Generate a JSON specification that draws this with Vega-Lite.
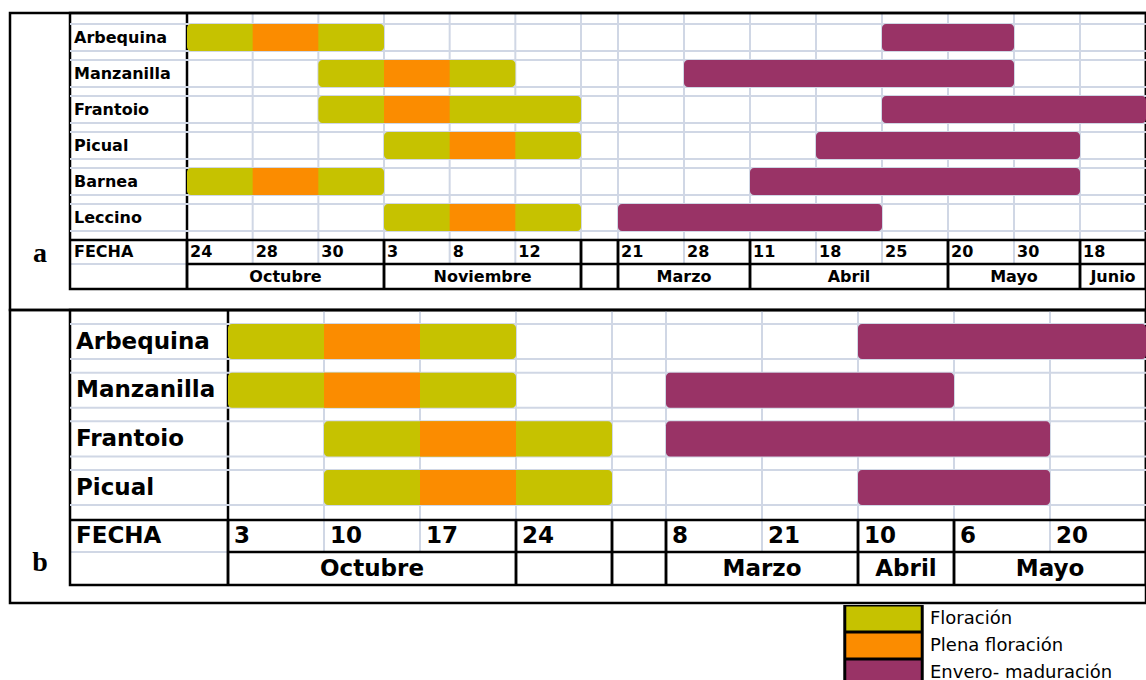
{
  "$schema": "https://vega.github.io/schema/vega-lite/v6.json",
  "padding": 0,
  "spacing": 0,
  "bounds": "flush",
  "background": "white",
  "config": {"view": {"stroke": null}, "axis": {"disable": true}},
  "datasets": {
    "fases_a": [
      {"variedad": "Arbequina", "fase": "Floración", "inicio": 0, "fin": 3},
      {"variedad": "Arbequina", "fase": "Plena floración", "inicio": 1, "fin": 2},
      {"variedad": "Arbequina", "fase": "Envero- maduración", "inicio": 11, "fin": 13},
      {"variedad": "Manzanilla", "fase": "Floración", "inicio": 2, "fin": 5},
      {"variedad": "Manzanilla", "fase": "Plena floración", "inicio": 3, "fin": 4},
      {"variedad": "Manzanilla", "fase": "Envero- maduración", "inicio": 8, "fin": 13},
      {"variedad": "Frantoio", "fase": "Floración", "inicio": 2, "fin": 6},
      {"variedad": "Frantoio", "fase": "Plena floración", "inicio": 3, "fin": 4},
      {"variedad": "Frantoio", "fase": "Envero- maduración", "inicio": 11, "fin": 15},
      {"variedad": "Picual", "fase": "Floración", "inicio": 3, "fin": 6},
      {"variedad": "Picual", "fase": "Plena floración", "inicio": 4, "fin": 5},
      {"variedad": "Picual", "fase": "Envero- maduración", "inicio": 10, "fin": 14},
      {"variedad": "Barnea", "fase": "Floración", "inicio": 0, "fin": 3},
      {"variedad": "Barnea", "fase": "Plena floración", "inicio": 1, "fin": 2},
      {"variedad": "Barnea", "fase": "Envero- maduración", "inicio": 9, "fin": 14},
      {"variedad": "Leccino", "fase": "Floración", "inicio": 3, "fin": 6},
      {"variedad": "Leccino", "fase": "Plena floración", "inicio": 4, "fin": 5},
      {"variedad": "Leccino", "fase": "Envero- maduración", "inicio": 7, "fin": 11}
    ],
    "fechas_a": [
      {"col": 0, "fecha": "24"}, {"col": 1, "fecha": "28"}, {"col": 2, "fecha": "30"},
      {"col": 3, "fecha": "3"}, {"col": 4, "fecha": "8"}, {"col": 5, "fecha": "12"},
      {"col": 7, "fecha": "21"}, {"col": 8, "fecha": "28"}, {"col": 9, "fecha": "11"},
      {"col": 10, "fecha": "18"}, {"col": 11, "fecha": "25"}, {"col": 12, "fecha": "20"},
      {"col": 13, "fecha": "30"}, {"col": 14, "fecha": "18"}
    ],
    "meses_a": [
      {"mes": "Octubre", "inicio": 0, "fin": 3},
      {"mes": "Noviembre", "inicio": 3, "fin": 6},
      {"mes": "", "inicio": 6, "fin": 7},
      {"mes": "Marzo", "inicio": 7, "fin": 9},
      {"mes": "Abril", "inicio": 9, "fin": 12},
      {"mes": "Mayo", "inicio": 12, "fin": 14},
      {"mes": "Junio", "inicio": 14, "fin": 15}
    ],
    "fases_b": [
      {"variedad": "Arbequina", "fase": "Floración", "inicio": 0, "fin": 3},
      {"variedad": "Arbequina", "fase": "Plena floración", "inicio": 1, "fin": 2},
      {"variedad": "Arbequina", "fase": "Envero- maduración", "inicio": 7, "fin": 10},
      {"variedad": "Manzanilla", "fase": "Floración", "inicio": 0, "fin": 3},
      {"variedad": "Manzanilla", "fase": "Plena floración", "inicio": 1, "fin": 2},
      {"variedad": "Manzanilla", "fase": "Envero- maduración", "inicio": 5, "fin": 8},
      {"variedad": "Frantoio", "fase": "Floración", "inicio": 1, "fin": 4},
      {"variedad": "Frantoio", "fase": "Plena floración", "inicio": 2, "fin": 3},
      {"variedad": "Frantoio", "fase": "Envero- maduración", "inicio": 5, "fin": 9},
      {"variedad": "Picual", "fase": "Floración", "inicio": 1, "fin": 4},
      {"variedad": "Picual", "fase": "Plena floración", "inicio": 2, "fin": 3},
      {"variedad": "Picual", "fase": "Envero- maduración", "inicio": 7, "fin": 9}
    ],
    "fechas_b": [
      {"col": 0, "fecha": "3"}, {"col": 1, "fecha": "10"}, {"col": 2, "fecha": "17"},
      {"col": 3, "fecha": "24"}, {"col": 5, "fecha": "8"}, {"col": 6, "fecha": "21"},
      {"col": 7, "fecha": "10"}, {"col": 8, "fecha": "6"}, {"col": 9, "fecha": "20"}
    ],
    "meses_b": [
      {"mes": "Octubre", "inicio": 0, "fin": 3},
      {"mes": "", "inicio": 3, "fin": 4},
      {"mes": " ", "inicio": 4, "fin": 5},
      {"mes": "Marzo", "inicio": 5, "fin": 7},
      {"mes": "Abril", "inicio": 7, "fin": 8},
      {"mes": "Mayo", "inicio": 8, "fin": 10}
    ]
  },
  "resolve": {"scale": {"color": "shared"}, "legend": {"color": "shared"}},
  "vconcat": [
    {
      "width": 1146,
      "height": 309,
      "layer": [
        {
          "data": {"values": [{}]},
          "layer": [
            {"data": {"name": "fechas_a"}, "mark": {"type": "rule", "color": "#d0d7e5", "strokeWidth": 2},
             "encoding": {"x": {"field": "col", "type": "quantitative", "scale": {"type": "linear", "domain": [-2, -1, 0, 6, 7, 15], "range": [10, 70, 187, 581, 618, 1146], "nice": false, "zero": false}},
                          "y": {"datum": 0, "type": "quantitative", "scale": {"type": "linear", "domain": [0, 1, 2, 3, 4], "range": [13, 240, 264, 289, 310], "nice": false, "zero": false}},
                          "y2": {"datum": 2}}},
            {"data": {"name": "meses_a"}, "transform": [{"fold": ["inicio", "fin"], "as": ["borde", "pos"]}],
             "mark": {"type": "rule", "color": "#d0d7e5", "strokeWidth": 2},
             "encoding": {"x": {"field": "pos", "type": "quantitative", "scale": {"type": "linear", "domain": [-2, -1, 0, 6, 7, 15], "range": [10, 70, 187, 581, 618, 1146], "nice": false, "zero": false}},
                          "y": {"datum": 0, "type": "quantitative", "scale": {"type": "linear", "domain": [0, 1, 2, 3, 4], "range": [13, 240, 264, 289, 310], "nice": false, "zero": false}},
                          "y2": {"datum": 1}}},
            {"mark": {"type": "rule", "color": "#d0d7e5", "strokeWidth": 2},
             "encoding": {"x": {"datum": -1, "type": "quantitative", "scale": {"type": "linear", "domain": [-2, -1, 0, 6, 7, 15], "range": [10, 70, 187, 581, 618, 1146], "nice": false, "zero": false}},
                          "x2": {"datum": 0},
                          "y": {"datum": 2, "type": "quantitative", "scale": {"type": "linear", "domain": [0, 1, 2, 3, 4], "range": [13, 240, 264, 289, 310], "nice": false, "zero": false}}}},
            {"mark": {"type": "rule", "color": "black", "strokeWidth": 2.5},
             "encoding": {"x": {"datum": -1, "type": "quantitative", "scale": {"type": "linear", "domain": [-2, -1, 0, 6, 7, 15], "range": [10, 70, 187, 581, 618, 1146], "nice": false, "zero": false}},
                          "x2": {"datum": 15},
                          "y": {"datum": 1, "type": "quantitative", "scale": {"type": "linear", "domain": [0, 1, 2, 3, 4], "range": [13, 240, 264, 289, 310], "nice": false, "zero": false}}}},
            {"mark": {"type": "rule", "color": "black", "strokeWidth": 2.5},
             "encoding": {"x": {"datum": 0, "type": "quantitative", "scale": {"type": "linear", "domain": [-2, -1, 0, 6, 7, 15], "range": [10, 70, 187, 581, 618, 1146], "nice": false, "zero": false}},
                          "x2": {"datum": 15},
                          "y": {"datum": 2, "type": "quantitative", "scale": {"type": "linear", "domain": [0, 1, 2, 3, 4], "range": [13, 240, 264, 289, 310], "nice": false, "zero": false}}}},
            {"mark": {"type": "rule", "color": "black", "strokeWidth": 2.5},
             "encoding": {"x": {"datum": 0, "type": "quantitative", "scale": {"type": "linear", "domain": [-2, -1, 0, 6, 7, 15], "range": [10, 70, 187, 581, 618, 1146], "nice": false, "zero": false}},
                          "y": {"datum": 0, "type": "quantitative", "scale": {"type": "linear", "domain": [0, 1, 2, 3, 4], "range": [13, 240, 264, 289, 310], "nice": false, "zero": false}},
                          "y2": {"datum": 3}}},
            {"data": {"name": "meses_a"}, "transform": [{"fold": ["inicio", "fin"], "as": ["borde", "pos"]}],
             "mark": {"type": "rule", "color": "black", "strokeWidth": 2.5},
             "encoding": {"x": {"field": "pos", "type": "quantitative", "scale": {"type": "linear", "domain": [-2, -1, 0, 6, 7, 15], "range": [10, 70, 187, 581, 618, 1146], "nice": false, "zero": false}},
                          "y": {"datum": 1, "type": "quantitative", "scale": {"type": "linear", "domain": [0, 1, 2, 3, 4], "range": [13, 240, 264, 289, 310], "nice": false, "zero": false}},
                          "y2": {"datum": 3}}},
            {"mark": {"type": "rect", "fillOpacity": 0, "stroke": "black", "strokeWidth": 2.5},
             "encoding": {"x": {"datum": -1, "type": "quantitative", "scale": {"type": "linear", "domain": [-2, -1, 0, 6, 7, 15], "range": [10, 70, 187, 581, 618, 1146], "nice": false, "zero": false}},
                          "x2": {"datum": 15},
                          "y": {"datum": 0, "type": "quantitative", "scale": {"type": "linear", "domain": [0, 1, 2, 3, 4], "range": [13, 240, 264, 289, 310], "nice": false, "zero": false}},
                          "y2": {"datum": 3}}},
            {"mark": {"type": "rect", "fillOpacity": 0, "stroke": "black", "strokeWidth": 2.5},
             "encoding": {"x": {"datum": -2, "type": "quantitative", "scale": {"type": "linear", "domain": [-2, -1, 0, 6, 7, 15], "range": [10, 70, 187, 581, 618, 1146], "nice": false, "zero": false}},
                          "x2": {"datum": 15},
                          "y": {"datum": 0, "type": "quantitative", "scale": {"type": "linear", "domain": [0, 1, 2, 3, 4], "range": [13, 240, 264, 289, 310], "nice": false, "zero": false}},
                          "y2": {"datum": 4}}},
            {"mark": {"type": "text", "font": "DejaVu Sans", "fontWeight": "bold", "fontSize": 16, "color": "black", "align": "left", "baseline": "middle", "dx": 4},
             "encoding": {"x": {"datum": -1, "type": "quantitative", "scale": {"type": "linear", "domain": [-2, -1, 0, 6, 7, 15], "range": [10, 70, 187, 581, 618, 1146], "nice": false, "zero": false}},
                          "y": {"datum": 1.5, "type": "quantitative", "scale": {"type": "linear", "domain": [0, 1, 2, 3, 4], "range": [13, 240, 264, 289, 310], "nice": false, "zero": false}},
                          "text": {"value": "FECHA"}}},
            {"data": {"name": "fechas_a"},
             "mark": {"type": "text", "font": "DejaVu Sans", "fontWeight": "bold", "fontSize": 16, "color": "black", "align": "left", "baseline": "middle", "dx": 3},
             "encoding": {"x": {"field": "col", "type": "quantitative", "scale": {"type": "linear", "domain": [-2, -1, 0, 6, 7, 15], "range": [10, 70, 187, 581, 618, 1146], "nice": false, "zero": false}},
                          "y": {"datum": 1.5, "type": "quantitative", "scale": {"type": "linear", "domain": [0, 1, 2, 3, 4], "range": [13, 240, 264, 289, 310], "nice": false, "zero": false}},
                          "text": {"field": "fecha"}}},
            {"data": {"name": "meses_a"},
             "transform": [{"fold": ["inicio", "fin"], "as": ["borde", "pos"]}, {"aggregate": [{"op": "mean", "field": "pos", "as": "centro"}], "groupby": ["mes"]}],
             "mark": {"type": "text", "font": "DejaVu Sans", "fontWeight": "bold", "fontSize": 16, "color": "black", "align": "center", "baseline": "middle"},
             "encoding": {"x": {"field": "centro", "type": "quantitative", "scale": {"type": "linear", "domain": [-2, -1, 0, 6, 7, 15], "range": [10, 70, 187, 581, 618, 1146], "nice": false, "zero": false}},
                          "y": {"datum": 2.5, "type": "quantitative", "scale": {"type": "linear", "domain": [0, 1, 2, 3, 4], "range": [13, 240, 264, 289, 310], "nice": false, "zero": false}},
                          "text": {"field": "mes"}}},
            {"mark": {"type": "text", "font": "Liberation Serif", "fontWeight": "bold", "fontSize": 28, "color": "black", "align": "center", "baseline": "alphabetic", "dy": -2},
             "encoding": {"x": {"datum": -1.5, "type": "quantitative", "scale": {"type": "linear", "domain": [-2, -1, 0, 6, 7, 15], "range": [10, 70, 187, 581, 618, 1146], "nice": false, "zero": false}},
                          "y": {"datum": 2, "type": "quantitative", "scale": {"type": "linear", "domain": [0, 1, 2, 3, 4], "range": [13, 240, 264, 289, 310], "nice": false, "zero": false}},
                          "text": {"value": "a"}}}
          ]
        },
        {
          "data": {"name": "fases_a"},
          "layer": [
            {"transform": [{"filter": "datum.fase === 'Floración'"}],
             "mark": {"type": "rule", "color": "#d0d7e5", "strokeWidth": 2},
             "encoding": {"x": {"datum": -1, "type": "quantitative", "scale": {"type": "linear", "domain": [-2, -1, 0, 6, 7, 15], "range": [10, 70, 187, 581, 618, 1146], "nice": false, "zero": false}},
                          "x2": {"datum": 15},
                          "y": {"field": "variedad", "type": "nominal", "bandPosition": 0, "scale": {"type": "band", "domain": ["Arbequina", "Manzanilla", "Frantoio", "Picual", "Barnea", "Leccino"], "range": [19.5, 235.5], "paddingInner": 0.25, "paddingOuter": 0.125}}}},
            {"transform": [{"filter": "datum.fase === 'Floración'"}],
             "mark": {"type": "rule", "color": "#d0d7e5", "strokeWidth": 2},
             "encoding": {"x": {"datum": -1, "type": "quantitative", "scale": {"type": "linear", "domain": [-2, -1, 0, 6, 7, 15], "range": [10, 70, 187, 581, 618, 1146], "nice": false, "zero": false}},
                          "x2": {"datum": 15},
                          "y": {"field": "variedad", "type": "nominal", "bandPosition": 1, "scale": {"type": "band", "domain": ["Arbequina", "Manzanilla", "Frantoio", "Picual", "Barnea", "Leccino"], "range": [19.5, 235.5], "paddingInner": 0.25, "paddingOuter": 0.125}}}},
            {"transform": [{"filter": "datum.fase !== 'Plena floración'"}],
             "mark": {"type": "bar", "cornerRadiusEnd": 4},
             "encoding": {"x": {"field": "inicio", "type": "quantitative", "scale": {"type": "linear", "domain": [-2, -1, 0, 6, 7, 15], "range": [10, 70, 187, 581, 618, 1146], "nice": false, "zero": false}},
                          "x2": {"field": "fin"},
                          "y": {"field": "variedad", "type": "nominal", "scale": {"type": "band", "domain": ["Arbequina", "Manzanilla", "Frantoio", "Picual", "Barnea", "Leccino"], "range": [19.5, 235.5], "paddingInner": 0.25, "paddingOuter": 0.125}},
                          "color": {"field": "fase", "type": "nominal",
                                    "scale": {"domain": ["Floración", "Plena floración", "Envero- maduración"], "range": ["#c6c200", "#fb8c00", "#993366"]},
                                    "legend": {"orient": "none", "legendX": 843, "legendY": 605, "title": null,
                                               "symbolType": "M-1,-0.3486H1V0.3486H-1Z", "symbolSize": 6000,
                                               "symbolStrokeColor": "black", "symbolStrokeWidth": 3, "symbolOpacity": 1,
                                               "clipHeight": 27, "rowPadding": 0, "labelOffset": 6, "padding": 0, "offset": 0,
                                               "labelFont": "DejaVu Sans", "labelFontSize": 18, "labelColor": "black", "labelLimit": 400}}}},
            {"transform": [{"filter": "datum.fase === 'Plena floración'"}],
             "mark": {"type": "bar"},
             "encoding": {"x": {"field": "inicio", "type": "quantitative", "scale": {"type": "linear", "domain": [-2, -1, 0, 6, 7, 15], "range": [10, 70, 187, 581, 618, 1146], "nice": false, "zero": false}},
                          "x2": {"field": "fin"},
                          "y": {"field": "variedad", "type": "nominal", "scale": {"type": "band", "domain": ["Arbequina", "Manzanilla", "Frantoio", "Picual", "Barnea", "Leccino"], "range": [19.5, 235.5], "paddingInner": 0.25, "paddingOuter": 0.125}},
                          "color": {"field": "fase", "type": "nominal", "scale": {"domain": ["Floración", "Plena floración", "Envero- maduración"], "range": ["#c6c200", "#fb8c00", "#993366"]}}}},
            {"transform": [{"filter": "datum.fase === 'Floración'"}],
             "mark": {"type": "text", "font": "DejaVu Sans", "fontWeight": "bold", "fontSize": 16, "color": "black", "align": "left", "baseline": "middle", "dx": 4},
             "encoding": {"x": {"datum": -1, "type": "quantitative", "scale": {"type": "linear", "domain": [-2, -1, 0, 6, 7, 15], "range": [10, 70, 187, 581, 618, 1146], "nice": false, "zero": false}},
                          "y": {"field": "variedad", "type": "nominal", "scale": {"type": "band", "domain": ["Arbequina", "Manzanilla", "Frantoio", "Picual", "Barnea", "Leccino"], "range": [19.5, 235.5], "paddingInner": 0.25, "paddingOuter": 0.125}},
                          "text": {"field": "variedad"}}}
          ]
        }
      ],
      "resolve": {"scale": {"y": "independent"}}
    },
    {
      "width": 1146,
      "height": 371,
      "layer": [
        {
          "data": {"values": [{}]},
          "layer": [
            {"data": {"name": "fechas_b"}, "mark": {"type": "rule", "color": "#d0d7e5", "strokeWidth": 2},
             "encoding": {"x": {"field": "col", "type": "quantitative", "scale": {"type": "linear", "domain": [-2, -1, 0, 4, 5, 10], "range": [10, 70, 228, 612, 666, 1146], "nice": false, "zero": false}},
                          "y": {"datum": 0, "type": "quantitative", "scale": {"type": "linear", "domain": [0, 1, 2, 3, 4], "range": [1, 211, 243, 276, 294], "nice": false, "zero": false}},
                          "y2": {"datum": 2}}},
            {"data": {"name": "meses_b"}, "transform": [{"fold": ["inicio", "fin"], "as": ["borde", "pos"]}],
             "mark": {"type": "rule", "color": "#d0d7e5", "strokeWidth": 2},
             "encoding": {"x": {"field": "pos", "type": "quantitative", "scale": {"type": "linear", "domain": [-2, -1, 0, 4, 5, 10], "range": [10, 70, 228, 612, 666, 1146], "nice": false, "zero": false}},
                          "y": {"datum": 0, "type": "quantitative", "scale": {"type": "linear", "domain": [0, 1, 2, 3, 4], "range": [1, 211, 243, 276, 294], "nice": false, "zero": false}},
                          "y2": {"datum": 1}}},
            {"mark": {"type": "rule", "color": "#d0d7e5", "strokeWidth": 2},
             "encoding": {"x": {"datum": -1, "type": "quantitative", "scale": {"type": "linear", "domain": [-2, -1, 0, 4, 5, 10], "range": [10, 70, 228, 612, 666, 1146], "nice": false, "zero": false}},
                          "x2": {"datum": 0},
                          "y": {"datum": 2, "type": "quantitative", "scale": {"type": "linear", "domain": [0, 1, 2, 3, 4], "range": [1, 211, 243, 276, 294], "nice": false, "zero": false}}}},
            {"mark": {"type": "rule", "color": "black", "strokeWidth": 2.5},
             "encoding": {"x": {"datum": -1, "type": "quantitative", "scale": {"type": "linear", "domain": [-2, -1, 0, 4, 5, 10], "range": [10, 70, 228, 612, 666, 1146], "nice": false, "zero": false}},
                          "x2": {"datum": 10},
                          "y": {"datum": 1, "type": "quantitative", "scale": {"type": "linear", "domain": [0, 1, 2, 3, 4], "range": [1, 211, 243, 276, 294], "nice": false, "zero": false}}}},
            {"mark": {"type": "rule", "color": "black", "strokeWidth": 2.5},
             "encoding": {"x": {"datum": 0, "type": "quantitative", "scale": {"type": "linear", "domain": [-2, -1, 0, 4, 5, 10], "range": [10, 70, 228, 612, 666, 1146], "nice": false, "zero": false}},
                          "x2": {"datum": 10},
                          "y": {"datum": 2, "type": "quantitative", "scale": {"type": "linear", "domain": [0, 1, 2, 3, 4], "range": [1, 211, 243, 276, 294], "nice": false, "zero": false}}}},
            {"mark": {"type": "rule", "color": "black", "strokeWidth": 2.5},
             "encoding": {"x": {"datum": 0, "type": "quantitative", "scale": {"type": "linear", "domain": [-2, -1, 0, 4, 5, 10], "range": [10, 70, 228, 612, 666, 1146], "nice": false, "zero": false}},
                          "y": {"datum": 0, "type": "quantitative", "scale": {"type": "linear", "domain": [0, 1, 2, 3, 4], "range": [1, 211, 243, 276, 294], "nice": false, "zero": false}},
                          "y2": {"datum": 3}}},
            {"data": {"name": "meses_b"}, "transform": [{"fold": ["inicio", "fin"], "as": ["borde", "pos"]}],
             "mark": {"type": "rule", "color": "black", "strokeWidth": 2.5},
             "encoding": {"x": {"field": "pos", "type": "quantitative", "scale": {"type": "linear", "domain": [-2, -1, 0, 4, 5, 10], "range": [10, 70, 228, 612, 666, 1146], "nice": false, "zero": false}},
                          "y": {"datum": 1, "type": "quantitative", "scale": {"type": "linear", "domain": [0, 1, 2, 3, 4], "range": [1, 211, 243, 276, 294], "nice": false, "zero": false}},
                          "y2": {"datum": 3}}},
            {"mark": {"type": "rect", "fillOpacity": 0, "stroke": "black", "strokeWidth": 2.5},
             "encoding": {"x": {"datum": -1, "type": "quantitative", "scale": {"type": "linear", "domain": [-2, -1, 0, 4, 5, 10], "range": [10, 70, 228, 612, 666, 1146], "nice": false, "zero": false}},
                          "x2": {"datum": 10},
                          "y": {"datum": 0, "type": "quantitative", "scale": {"type": "linear", "domain": [0, 1, 2, 3, 4], "range": [1, 211, 243, 276, 294], "nice": false, "zero": false}},
                          "y2": {"datum": 3}}},
            {"mark": {"type": "rect", "fillOpacity": 0, "stroke": "black", "strokeWidth": 2.5},
             "encoding": {"x": {"datum": -2, "type": "quantitative", "scale": {"type": "linear", "domain": [-2, -1, 0, 4, 5, 10], "range": [10, 70, 228, 612, 666, 1146], "nice": false, "zero": false}},
                          "x2": {"datum": 10},
                          "y": {"datum": 0, "type": "quantitative", "scale": {"type": "linear", "domain": [0, 1, 2, 3, 4], "range": [1, 211, 243, 276, 294], "nice": false, "zero": false}},
                          "y2": {"datum": 4}}},
            {"mark": {"type": "text", "font": "DejaVu Sans", "fontWeight": "bold", "fontSize": 23, "color": "black", "align": "left", "baseline": "middle", "dx": 6},
             "encoding": {"x": {"datum": -1, "type": "quantitative", "scale": {"type": "linear", "domain": [-2, -1, 0, 4, 5, 10], "range": [10, 70, 228, 612, 666, 1146], "nice": false, "zero": false}},
                          "y": {"datum": 1.5, "type": "quantitative", "scale": {"type": "linear", "domain": [0, 1, 2, 3, 4], "range": [1, 211, 243, 276, 294], "nice": false, "zero": false}},
                          "text": {"value": "FECHA"}}},
            {"data": {"name": "fechas_b"},
             "mark": {"type": "text", "font": "DejaVu Sans", "fontWeight": "bold", "fontSize": 23, "color": "black", "align": "left", "baseline": "middle", "dx": 6},
             "encoding": {"x": {"field": "col", "type": "quantitative", "scale": {"type": "linear", "domain": [-2, -1, 0, 4, 5, 10], "range": [10, 70, 228, 612, 666, 1146], "nice": false, "zero": false}},
                          "y": {"datum": 1.5, "type": "quantitative", "scale": {"type": "linear", "domain": [0, 1, 2, 3, 4], "range": [1, 211, 243, 276, 294], "nice": false, "zero": false}},
                          "text": {"field": "fecha"}}},
            {"data": {"name": "meses_b"},
             "transform": [{"fold": ["inicio", "fin"], "as": ["borde", "pos"]}, {"aggregate": [{"op": "mean", "field": "pos", "as": "centro"}], "groupby": ["mes"]}],
             "mark": {"type": "text", "font": "DejaVu Sans", "fontWeight": "bold", "fontSize": 23, "color": "black", "align": "center", "baseline": "middle"},
             "encoding": {"x": {"field": "centro", "type": "quantitative", "scale": {"type": "linear", "domain": [-2, -1, 0, 4, 5, 10], "range": [10, 70, 228, 612, 666, 1146], "nice": false, "zero": false}},
                          "y": {"datum": 2.5, "type": "quantitative", "scale": {"type": "linear", "domain": [0, 1, 2, 3, 4], "range": [1, 211, 243, 276, 294], "nice": false, "zero": false}},
                          "text": {"field": "mes"}}},
            {"mark": {"type": "text", "font": "Liberation Serif", "fontWeight": "bold", "fontSize": 28, "color": "black", "align": "center", "baseline": "alphabetic", "dy": 2},
             "encoding": {"x": {"datum": -1.5, "type": "quantitative", "scale": {"type": "linear", "domain": [-2, -1, 0, 4, 5, 10], "range": [10, 70, 228, 612, 666, 1146], "nice": false, "zero": false}},
                          "y": {"datum": 2.5, "type": "quantitative", "scale": {"type": "linear", "domain": [0, 1, 2, 3, 4], "range": [1, 211, 243, 276, 294], "nice": false, "zero": false}},
                          "text": {"value": "b"}}}
          ]
        },
        {
          "data": {"name": "fases_b"},
          "layer": [
            {"transform": [{"filter": "datum.fase === 'Floración'"}],
             "mark": {"type": "rule", "color": "#d0d7e5", "strokeWidth": 2},
             "encoding": {"x": {"datum": -1, "type": "quantitative", "scale": {"type": "linear", "domain": [-2, -1, 0, 4, 5, 10], "range": [10, 70, 228, 612, 666, 1146], "nice": false, "zero": false}},
                          "x2": {"datum": 10},
                          "y": {"field": "variedad", "type": "nominal", "bandPosition": 0, "scale": {"type": "band", "domain": ["Arbequina", "Manzanilla", "Frantoio", "Picual"], "range": [8.2, 202.9], "paddingInner": 0.28, "paddingOuter": 0.14}}}},
            {"transform": [{"filter": "datum.fase === 'Floración'"}],
             "mark": {"type": "rule", "color": "#d0d7e5", "strokeWidth": 2},
             "encoding": {"x": {"datum": -1, "type": "quantitative", "scale": {"type": "linear", "domain": [-2, -1, 0, 4, 5, 10], "range": [10, 70, 228, 612, 666, 1146], "nice": false, "zero": false}},
                          "x2": {"datum": 10},
                          "y": {"field": "variedad", "type": "nominal", "bandPosition": 1, "scale": {"type": "band", "domain": ["Arbequina", "Manzanilla", "Frantoio", "Picual"], "range": [8.2, 202.9], "paddingInner": 0.28, "paddingOuter": 0.14}}}},
            {"transform": [{"filter": "datum.fase !== 'Plena floración'"}],
             "mark": {"type": "bar", "cornerRadiusEnd": 4},
             "encoding": {"x": {"field": "inicio", "type": "quantitative", "scale": {"type": "linear", "domain": [-2, -1, 0, 4, 5, 10], "range": [10, 70, 228, 612, 666, 1146], "nice": false, "zero": false}},
                          "x2": {"field": "fin"},
                          "y": {"field": "variedad", "type": "nominal", "scale": {"type": "band", "domain": ["Arbequina", "Manzanilla", "Frantoio", "Picual"], "range": [8.2, 202.9], "paddingInner": 0.28, "paddingOuter": 0.14}},
                          "color": {"field": "fase", "type": "nominal", "scale": {"domain": ["Floración", "Plena floración", "Envero- maduración"], "range": ["#c6c200", "#fb8c00", "#993366"]}}}},
            {"transform": [{"filter": "datum.fase === 'Plena floración'"}],
             "mark": {"type": "bar"},
             "encoding": {"x": {"field": "inicio", "type": "quantitative", "scale": {"type": "linear", "domain": [-2, -1, 0, 4, 5, 10], "range": [10, 70, 228, 612, 666, 1146], "nice": false, "zero": false}},
                          "x2": {"field": "fin"},
                          "y": {"field": "variedad", "type": "nominal", "scale": {"type": "band", "domain": ["Arbequina", "Manzanilla", "Frantoio", "Picual"], "range": [8.2, 202.9], "paddingInner": 0.28, "paddingOuter": 0.14}},
                          "color": {"field": "fase", "type": "nominal", "scale": {"domain": ["Floración", "Plena floración", "Envero- maduración"], "range": ["#c6c200", "#fb8c00", "#993366"]}}}},
            {"transform": [{"filter": "datum.fase === 'Floración'"}],
             "mark": {"type": "text", "font": "DejaVu Sans", "fontWeight": "bold", "fontSize": 23, "color": "black", "align": "left", "baseline": "middle", "dx": 6},
             "encoding": {"x": {"datum": -1, "type": "quantitative", "scale": {"type": "linear", "domain": [-2, -1, 0, 4, 5, 10], "range": [10, 70, 228, 612, 666, 1146], "nice": false, "zero": false}},
                          "y": {"field": "variedad", "type": "nominal", "scale": {"type": "band", "domain": ["Arbequina", "Manzanilla", "Frantoio", "Picual"], "range": [8.2, 202.9], "paddingInner": 0.28, "paddingOuter": 0.14}},
                          "text": {"field": "variedad"}}}
          ]
        }
      ],
      "resolve": {"scale": {"y": "independent"}}
    }
  ]
}
